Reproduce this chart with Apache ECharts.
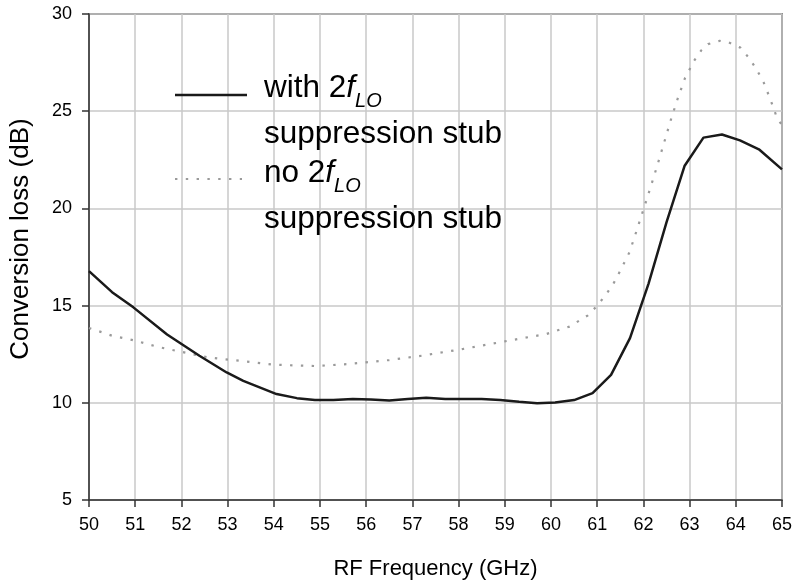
<!DOCTYPE html>
<html>
<head>
<meta charset="utf-8">
<script src="https://cdn.jsdelivr.net/npm/echarts@6/dist/echarts.min.js"></script>
<style>
  html, body { margin: 0; padding: 0; background: #fff; }
  #chart { width: 795px; height: 588px; }
</style>
</head>
<body>
<div id="chart"></div>
<script>
// Mixer conversion loss versus RF frequency, with and without the 2fLO suppression stub
const freqWith = [50, 50.5, 50.96, 51.69, 52.39, 52.98, 53.34, 54.06, 54.5, 54.89, 55.29, 55.71, 56.1, 56.5,
  56.9, 57.3, 57.71, 58.1, 58.5, 58.9, 59.31, 59.7, 60.09, 60.5, 60.9, 61.3, 61.71, 62.11, 62.5,
  62.89, 63.3, 63.7, 64.09, 64.5, 65];
const lossWith = [16.77, 15.69, 14.91, 13.51, 12.42, 11.56, 11.13, 10.45, 10.24, 10.14, 10.14, 10.19, 10.17, 10.12,
  10.2, 10.26, 10.2, 10.19, 10.19, 10.14, 10.05, 9.98, 10.01, 10.14, 10.5, 11.44, 13.33, 16.12, 19.28,
  22.18, 23.64, 23.8, 23.5, 23.04, 22.01];

const freqNo = [50, 50.5, 51, 51.5, 52, 52.6, 53.3, 54, 54.9, 55.6, 56.5, 57.2, 58.1, 59, 59.9, 60.4,
  60.8, 61.0, 61.2, 61.35, 61.5, 61.7, 61.85, 62.0, 62.15, 62.3, 62.45, 62.6, 62.75, 62.9, 63.1,
  63.25, 63.4, 63.65, 63.85, 64.1, 64.3, 64.45, 64.6, 64.75, 64.9, 65];
const lossNo = [13.85, 13.45, 13.2, 12.87, 12.62, 12.33, 12.15, 11.96, 11.89, 11.99, 12.2, 12.42, 12.77, 13.16, 13.54, 13.92,
  14.5, 15.0, 15.6, 16.12, 16.8, 17.75, 18.83, 19.93, 21.05, 22.2, 23.4, 24.6, 25.7, 26.7, 27.6,
  28.12, 28.45, 28.62, 28.53, 28.27, 27.7, 27.15, 26.5, 25.6, 24.6, 24.3];

const xTicks = { min: 50, max: 65, step: 1 };
const yTicks = { min: 5, max: 30, step: 5 };

const zip = (xs, ys) => xs.map((x, i) => [x, ys[i]]);
const FONT = '"Liberation Sans", Arial, Helvetica, sans-serif';

const chart = echarts.init(document.getElementById('chart'), null, { renderer: 'canvas' });

const legendRich = {
  f: { fontFamily: FONT, fontSize: 31.5, fontStyle: 'italic', lineHeight: 46 },
  s: { fontFamily: FONT, fontSize: 20, fontStyle: 'italic', lineHeight: 16, verticalAlign: 'bottom' }
};

chart.setOption({
  animation: false,
  backgroundColor: '#fff',
  grid: {
    left: 89, right: 13, top: 14, bottom: 88,
    show: true, borderColor: '#333', borderWidth: 1.5, backgroundColor: 'transparent'
  },
  xAxis: {
    type: 'value',
    min: xTicks.min, max: xTicks.max, interval: xTicks.step,
    name: 'RF Frequency (GHz)',
    nameLocation: 'middle',
    nameGap: 58,
    nameTextStyle: { fontFamily: FONT, fontSize: 22, color: '#000' },
    axisLine: { show: true, lineStyle: { color: '#333', width: 1.5 } },
    axisTick: { show: true, inside: false, length: 7, lineStyle: { color: '#333', width: 1.5 } },
    axisLabel: { fontFamily: FONT, fontSize: 18, color: '#000', margin: 16 },
    splitLine: { show: true, lineStyle: { color: '#c8c8c8', width: 1.5 } }
  },
  yAxis: {
    type: 'value',
    min: yTicks.min, max: yTicks.max, interval: yTicks.step,
    name: 'Conversion loss (dB)',
    nameLocation: 'middle',
    nameGap: 55,
    nameTextStyle: { fontFamily: FONT, fontSize: 26, color: '#000', padding: [0, 0, 0, 36] },
    axisLine: { show: true, lineStyle: { color: '#333', width: 1.5 } },
    axisTick: { show: true, inside: false, length: 7, lineStyle: { color: '#333', width: 1.5 } },
    axisLabel: { fontFamily: FONT, fontSize: 18, color: '#000', margin: 17 },
    splitLine: { show: true, lineStyle: { color: '#c8c8c8', width: 1.5 } }
  },
  series: [
    {
      name: 'with stub',
      type: 'line',
      data: zip(freqWith, lossWith),
      symbol: 'none',
      smooth: false,
      lineStyle: { color: '#1a1a1a', width: 2.5 },
      z: 3
    },
    {
      name: 'no stub',
      type: 'line',
      data: zip(freqNo, lossNo),
      symbol: 'none',
      smooth: false,
      lineStyle: { color: '#9a9a9a', width: 2.2, type: [2.4, 8.4], cap: 'butt' },
      z: 2
    }
  ],
  graphic: [
    { type: 'line', shape: { x1: 175, y1: 95, x2: 247, y2: 95 }, style: { stroke: '#1a1a1a', lineWidth: 2.5 }, z: 10 },
    { type: 'line', shape: { x1: 175, y1: 179, x2: 242, y2: 179 }, style: { stroke: '#9a9a9a', lineWidth: 2.2, lineDash: [2.4, 8.4] }, z: 10 },
    {
      type: 'text', left: 264, top: 65, z: 10,
      style: {
        text: 'with 2{f|f}{s|LO}\nsuppression stub',
        rich: legendRich,
        fontFamily: FONT, fontSize: 31.5, lineHeight: 46, fill: '#000'
      }
    },
    {
      type: 'text', left: 264, top: 150, z: 10,
      style: {
        text: 'no 2{f|f}{s|LO}\nsuppression stub',
        rich: legendRich,
        fontFamily: FONT, fontSize: 31.5, lineHeight: 46, fill: '#000'
      }
    }
  ]
});
</script>
</body>
</html>
